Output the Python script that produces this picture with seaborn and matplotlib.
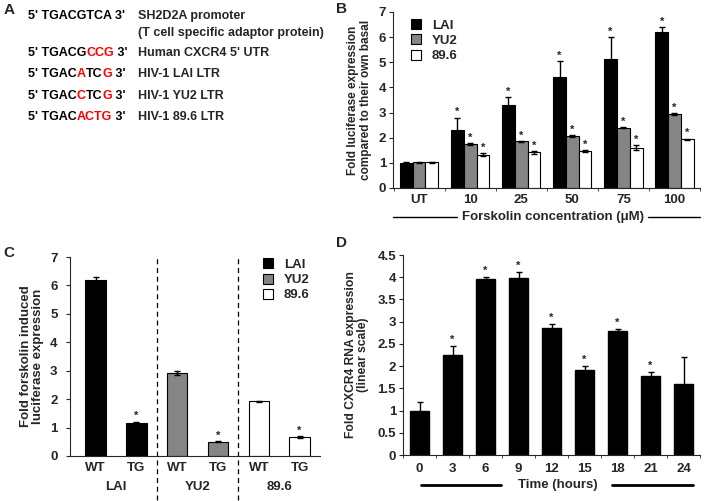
import numpy as np
import pandas as pd
import matplotlib
matplotlib.use("Agg")
import matplotlib.pyplot as plt
from matplotlib.patches import Patch
from matplotlib.lines import Line2D
import seaborn as sns

sns.set_style("ticks")
plt.rcParams['font.family'] = ['Liberation Sans', 'DejaVu Sans']
plt.rcParams['font.weight'] = 'bold'
plt.rcParams['axes.labelweight'] = 'bold'

# ---- data ----
# panel A
seq_rows = [
    [("5' TGACGTCA 3'", "black")],
    [("5' TGACG", "black"), ("CCG", "red"), (" 3'", "black")],
    [("5' TGAC", "black"), ("A", "red"), ("TC", "black"), ("G", "red"), (" 3'", "black")],
    [("5' TGAC", "black"), ("C", "red"), ("TC", "black"), ("G", "red"), (" 3'", "black")],
    [("5' TGAC", "black"), ("ACTG", "red"), (" 3'", "black")],
]
seq_desc = ["SH2D2A promoter\n(T cell specific adaptor protein)", "Human CXCR4 5' UTR",
            "HIV-1 LAI LTR", "HIV-1 YU2 LTR", "HIV-1 89.6 LTR"]

# panel B
conc = ["UT", "10", "25", "50", "75", "100"]
strains = ["LAI", "YU2", "89.6"]
b_lai = [1.0, 2.3, 3.3, 4.4, 5.15, 6.2]
b_lai_err = [0.05, 0.5, 0.3, 0.65, 0.85, 0.2]
b_yu2 = [1.02, 1.75, 1.85, 2.07, 2.4, 2.95]
b_yu2_err = [0.02, 0.02, 0.02, 0.03, 0.03, 0.03]
b_896 = [1.02, 1.33, 1.42, 1.48, 1.6, 1.93]
b_896_err = [0.02, 0.05, 0.05, 0.03, 0.1, 0.03]

# panel C
c_labels = ["WT", "TG", "WT", "TG", "WT", "TG"]
c_strain = ["LAI", "LAI", "YU2", "YU2", "89.6", "89.6"]
c_vals = [6.18, 1.17, 2.93, 0.5, 1.92, 0.67]
c_err = [0.13, 0.03, 0.07, 0.02, 0.03, 0.02]
c_star = [False, True, False, True, False, True]

# panel D
hours = ["0", "3", "6", "9", "12", "15", "18", "21", "24"]
d_vals = [1.0, 2.25, 3.95, 3.98, 2.85, 1.92, 2.78, 1.78, 1.6]
d_err = [0.2, 0.2, 0.06, 0.13, 0.1, 0.08, 0.06, 0.08, 0.6]
d_star = [False, True, True, True, True, True, True, True, False]

colors = {"LAI": "black", "YU2": "#858585", "89.6": "white"}
W, H = 709, 501

fig = plt.figure(figsize=(7.09, 5.01), dpi=100)
renderer = fig.canvas.get_renderer()

def px(x, y):
    return x / W, 1 - y / H

# ---- panel A ----
fig.text(*px(4, 3), "A", fontsize=11, va="top", ha="left")
row_y = [16, 53, 74, 96, 117]
for parts, desc, yy in zip(seq_rows, seq_desc, row_y):
    x = 28
    for txt, col in parts:
        t = fig.text(*px(x, yy), txt, color=col, fontsize=9, va="center", ha="left")
        x = t.get_window_extent(renderer).x1
    lines = desc.split("\n")
    fig.text(*px(138, yy), lines[0], fontsize=9, va="center", ha="left")
    if len(lines) > 1:
        fig.text(*px(138, 33), lines[1], fontsize=9, va="center", ha="left")

def add_err(ax, container, errs, stars=None, star_off=0.12):
    for i, (bar, e) in enumerate(zip(container, errs)):
        xc = bar.get_x() + bar.get_width() / 2
        top = bar.get_height()
        ax.errorbar(xc, top, yerr=[[e], [e]], fmt="none", ecolor="black",
                    elinewidth=1.0, capsize=2.5, capthick=1.0, zorder=5)
        if stars is not None and stars[i]:
            ax.text(xc, top + e + star_off, "*", ha="center", va="center", fontsize=8)

legend_kw = dict(frameon=False, fontsize=9.5, handlelength=0.8, handleheight=0.8,
                 handletextpad=0.8, labelspacing=0.2, borderaxespad=0)

# ---- panel B ----
axB = fig.add_axes([393 / W, 1 - 188 / H, 307 / W, 176 / H])
dfB = pd.DataFrame({
    "conc": conc * 3,
    "strain": sum([[s] * len(conc) for s in strains], []),
    "value": b_lai + b_yu2 + b_896,
})
sns.barplot(data=dfB, x="conc", y="value", hue="strain", palette=colors,
            edgecolor="black", linewidth=0.8, errorbar=None, width=0.75,
            legend=False, ax=axB)
for cont, errs in zip(axB.containers, [b_lai_err, b_yu2_err, b_896_err]):
    add_err(axB, cont, errs, stars=[False] + [True] * 5, star_off=0.22)
axB.set_xlim(-0.51, 5.29)
axB.set_ylim(0, 7)
axB.set_yticks(range(8))
axB.set_xlabel("")
axB.set_ylabel("Fold luciferase expression\ncompared to their own basal", fontsize=8.5,
               labelpad=5, linespacing=1.05)
axB.set_xticks(np.arange(-0.5, 5.6, 1), minor=True)
axB.tick_params(axis="x", which="major", length=0, labelsize=9.5, pad=4)
axB.tick_params(axis="x", which="minor", length=2.5)
axB.tick_params(axis="y", labelsize=9.5, length=3, pad=2)
sns.despine(ax=axB)
handles = [Patch(facecolor=colors[s], edgecolor="black", linewidth=0.8, label=s) for s in strains]
axB.legend(handles=handles, loc="upper left", bbox_to_anchor=(0.04, 0.99), **legend_kw)
yl = -(217 - 188) / 176
axB.add_line(Line2D([0, 0.21], [yl, yl], transform=axB.transAxes, color="black", lw=1, clip_on=False))
axB.add_line(Line2D([0.83, 1.0], [yl, yl], transform=axB.transAxes, color="black", lw=1, clip_on=False))
axB.text(0.52, yl, "Forskolin concentration (\u03bcM)", transform=axB.transAxes,
         ha="center", va="center", fontsize=9.5)
fig.text(*px(336, 2), "B", fontsize=11, va="top", ha="left")

# ---- panel C ----
axC = fig.add_axes([70 / W, 1 - 456 / H, 250 / W, 199 / H])
dfC = pd.DataFrame({"bar": [f"{s} {l}" for s, l in zip(c_strain, c_labels)],
                    "strain": c_strain, "value": c_vals})
sns.barplot(data=dfC, x="bar", y="value", hue="strain", palette=colors, dodge=False,
            edgecolor="black", linewidth=0.8, errorbar=None, width=0.5, legend=False, ax=axC)
k = 0
for cont in axC.containers:
    n = len(cont)
    add_err(axC, cont, c_err[k:k + n], stars=c_star[k:k + n], star_off=0.2)
    k += n
axC.set_xlim(-0.63, 5.5)
axC.set_ylim(0, 7)
axC.set_yticks(range(8))
axC.set_xticks(range(6))
axC.set_xticklabels(c_labels)
axC.set_xlabel("")
axC.set_ylabel("Fold forskolin induced\nluciferase expression", fontsize=9.5,
               labelpad=4, linespacing=1.05)
axC.tick_params(axis="x", length=0, labelsize=9.5, pad=4)
axC.tick_params(axis="y", labelsize=9.5, length=3, pad=6)
sns.despine(ax=axC)
for xv in [1.5, 3.5]:
    axC.axvline(xv, ymin=-0.22, ymax=1.0, color="black", lw=0.9, ls=(0, (4, 3)), clip_on=False)
for xv, lab in zip([0.5, 2.5, 4.5], strains):
    axC.text(xv, -0.155, lab, transform=axC.get_xaxis_transform(), ha="center", va="center", fontsize=9.5)
axC.legend(handles=handles, loc="upper left", bbox_to_anchor=(0.75, 1.02), **legend_kw)
fig.text(*px(3, 246), "C", fontsize=11, va="top", ha="left")

# ---- panel D ----
axD = fig.add_axes([403 / W, 1 - 455 / H, 297 / W, 200 / H])
dfD = pd.DataFrame({"hour": hours, "value": d_vals})
sns.barplot(data=dfD, x="hour", y="value", color="black", edgecolor="black",
            errorbar=None, width=0.6, ax=axD)
add_err(axD, axD.containers[0], d_err, stars=d_star, star_off=0.14)
axD.set_xlim(-0.5, 8.36)
axD.set_ylim(0, 4.5)
axD.set_yticks(np.arange(0, 4.51, 0.5))
axD.set_yticklabels([f"{v:g}" for v in np.arange(0, 4.51, 0.5)])
axD.set_xlabel("")
axD.set_ylabel("Fold CXCR4 RNA expression\n(linear scale)", fontsize=8.7,
               labelpad=6, linespacing=1.05)
axD.set_xticks(np.arange(-0.5, 8.6, 1), minor=True)
axD.tick_params(axis="x", which="major", length=0, labelsize=9.5, pad=6)
axD.tick_params(axis="x", which="minor", length=2.5)
axD.tick_params(axis="y", labelsize=9.5, length=3, pad=2)
sns.despine(ax=axD)
axD.add_line(Line2D([0.06, 0.33], [-0.15, -0.15], transform=axD.transAxes, color="black", lw=2, clip_on=False))
axD.add_line(Line2D([0.705, 0.976], [-0.15, -0.15], transform=axD.transAxes, color="black", lw=2, clip_on=False))
axD.text(0.52, -0.15, "Time (hours)", transform=axD.transAxes, ha="center", va="center", fontsize=9.5)
fig.text(*px(336, 236), "D", fontsize=11, va="top", ha="left")

fig.savefig("out.png", dpi=100)
